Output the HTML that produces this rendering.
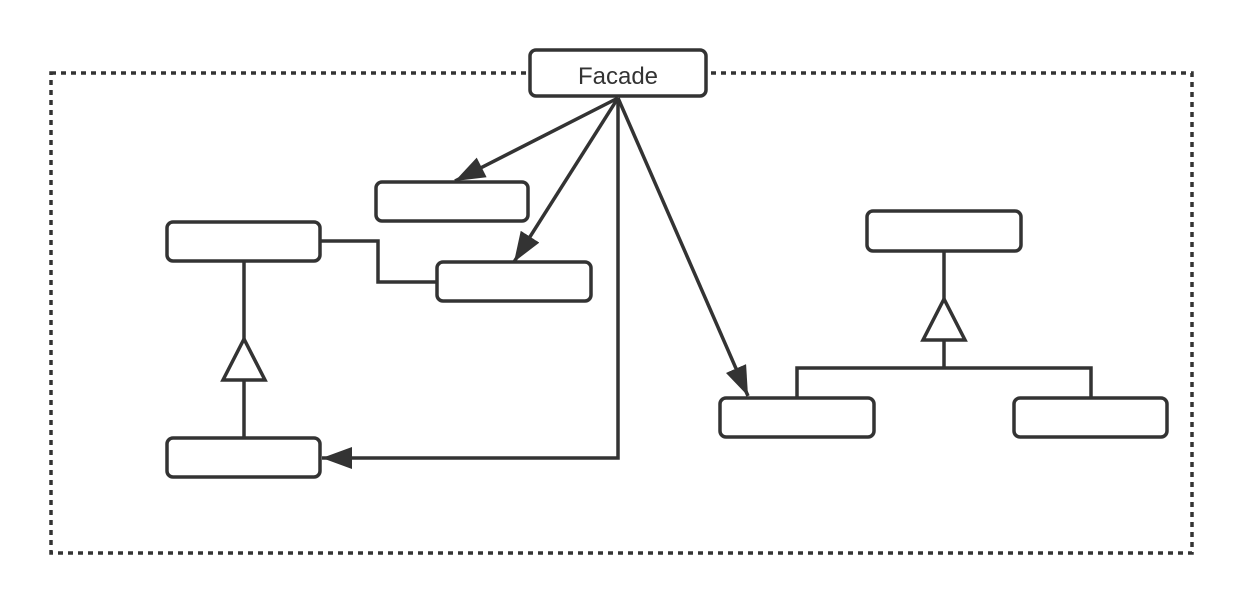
<!DOCTYPE html>
<html><head><meta charset="utf-8"><style>html,body{margin:0;padding:0;background:#fff}svg{display:block}</style></head>
<body>
<svg width="1242" height="605" viewBox="0 0 1242 605" xmlns="http://www.w3.org/2000/svg">
<defs>
<marker id="ah" viewBox="0 0 30 22" refX="30" refY="11" markerWidth="30" markerHeight="22" markerUnits="userSpaceOnUse" orient="auto">
<path d="M0,0 L30,11 L0,22 Z" fill="#333"/>
</marker>
</defs>
<rect x="51" y="73" width="1141" height="480" fill="none" stroke="#333" stroke-width="3.5" stroke-dasharray="5,5"/>
<g fill="#fff" stroke="#333" stroke-width="3.5">
<rect x="530" y="50" width="176" height="46" rx="6"/>
<rect x="376" y="182" width="152" height="39" rx="6"/>
<rect x="437" y="262" width="154" height="39" rx="6"/>
<rect x="167" y="222" width="153" height="39" rx="6"/>
<rect x="167" y="438" width="153" height="39" rx="6"/>
<rect x="867" y="211" width="154" height="40" rx="6"/>
<rect x="720" y="398" width="154" height="39" rx="6"/>
<rect x="1014" y="398" width="153" height="39" rx="6"/>
</g>
<text x="618" y="84" font-family="Liberation Sans, sans-serif" font-size="24" fill="#333" text-anchor="middle">Facade</text>
<g stroke="#333" stroke-width="3.5" fill="none">
<line x1="618" y1="98" x2="455" y2="181" marker-end="url(#ah)"/>
<line x1="618" y1="98" x2="514" y2="262" marker-end="url(#ah)"/>
<line x1="618" y1="98" x2="748" y2="396" marker-end="url(#ah)"/>
<polyline points="618,98 618,458 322,458" marker-end="url(#ah)"/>
<polyline points="320,241 378,241 378,282 437,282"/>
<line x1="244" y1="261" x2="244" y2="339"/>
<line x1="244" y1="380" x2="244" y2="438"/>
<polygon points="244,339 223,380 265,380" fill="#fff"/>
<line x1="944" y1="251" x2="944" y2="299"/>
<line x1="944" y1="340" x2="944" y2="368"/>
<polygon points="944,299 923,340 965,340" fill="#fff"/>
<polyline points="797,398 797,368 1091,368 1091,398"/>
</g>
</svg>
</body></html>
